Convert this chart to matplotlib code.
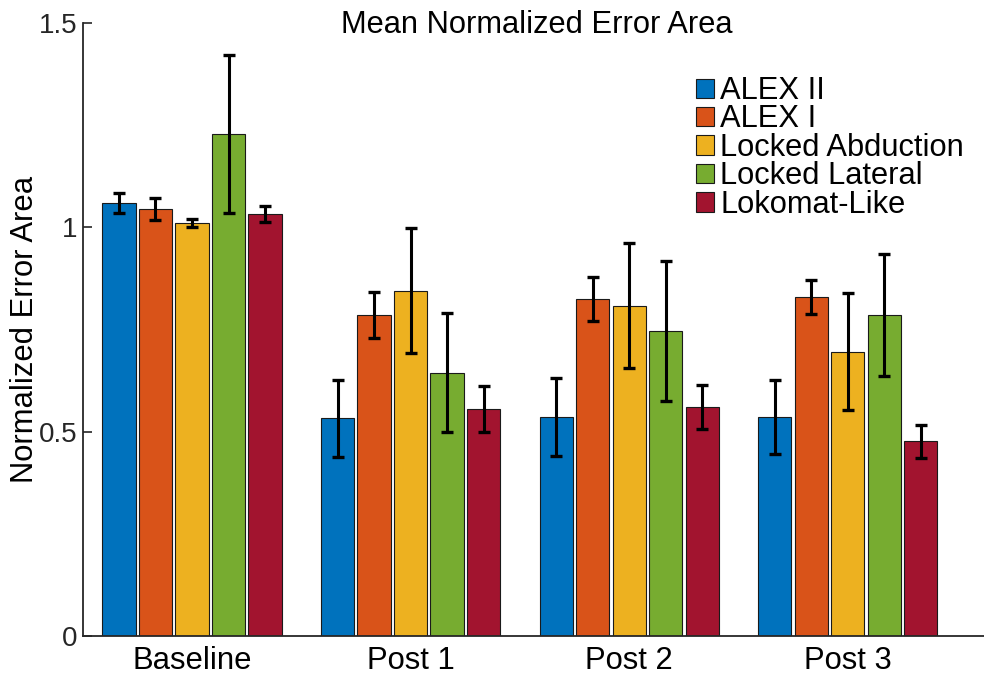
import matplotlib
matplotlib.use("Agg")
import matplotlib.pyplot as plt
import numpy as np

plt.rcParams['font.family'] = ['Liberation Sans', 'DejaVu Sans']

groups = ['Baseline', 'Post 1', 'Post 2', 'Post 3']
series = ['ALEX II', 'ALEX I', 'Locked Abduction', 'Locked Lateral', 'Lokomat-Like']
colors = ['#0072BD', '#D95319', '#EDB120', '#77AC30', '#A2142F']

alex2 = [1.059, 0.533, 0.536, 0.536]
alex1 = [1.044, 0.785, 0.824, 0.829]
locked_abd = [1.011, 0.845, 0.808, 0.696]
locked_lat = [1.229, 0.644, 0.747, 0.785]
lokomat = [1.032, 0.556, 0.560, 0.476]

alex2_err = [0.024, 0.094, 0.095, 0.091]
alex1_err = [0.027, 0.056, 0.054, 0.042]
locked_abd_err = [0.010, 0.153, 0.153, 0.144]
locked_lat_err = [0.193, 0.146, 0.171, 0.150]
lokomat_err = [0.020, 0.056, 0.053, 0.041]

means = [alex2, alex1, locked_abd, locked_lat, lokomat]
errs = [alex2_err, alex1_err, locked_abd_err, locked_lat_err, lokomat_err]

W, H = 984, 674
fig = plt.figure(figsize=(W / 100, H / 100), dpi=100)
ax = fig.add_axes([82.7 / W, 38 / H, 1 - 82.7 / W, 613 / H])

x = np.arange(1, len(groups) + 1)
pitch = 0.167
width = 0.152
for i, (m, e, c, name) in enumerate(zip(means, errs, colors, series)):
    xi = x + (i - 2) * pitch
    ax.bar(xi, m, width=width, color=c, edgecolor='#1a1a1a', linewidth=0.8, label=name, zorder=2)
    ax.errorbar(xi, m, yerr=e, fmt='none', ecolor='black', elinewidth=2.2,
                capsize=4.2, capthick=2.4, zorder=3)

ax.set_xlim(0.5, 4.623)
ax.set_ylim(0, 1.5)
ax.set_yticks([0, 0.5, 1, 1.5])
ax.set_yticklabels(['0', '0.5', '1', '1.5'])
ax.set_xticks(x)
ax.set_xticklabels(groups)

for s in ['top', 'right']:
    ax.spines[s].set_visible(False)
for s in ['left', 'bottom']:
    ax.spines[s].set_color('#262626')
    ax.spines[s].set_linewidth(1.3)

ax.tick_params(axis='y', direction='in', length=6.5, width=1.2, color='#262626',
               labelcolor='#262626', labelsize=20, pad=4)
ax.tick_params(axis='x', length=0, labelcolor='black', labelsize=22.3, pad=7)

ax.set_ylabel('Normalized Error Area', fontsize=22.3, color='black')
ax.yaxis.set_label_coords(-0.047, 0.5)

fig.text(537 / W, 1 - 33 / H, 'Mean Normalized Error Area', fontsize=22.2,
         ha='center', va='baseline', color='black')

leg = ax.legend(loc='upper left', bbox_to_anchor=(696 / W, 1 - 76 / H),
                bbox_transform=fig.transFigure, frameon=False, fontsize=22.2,
                handlelength=0.58, handleheight=0.58, handletextpad=0.2,
                labelspacing=-0.05, borderpad=0, borderaxespad=0)

fig.savefig('out.png', dpi=100)
